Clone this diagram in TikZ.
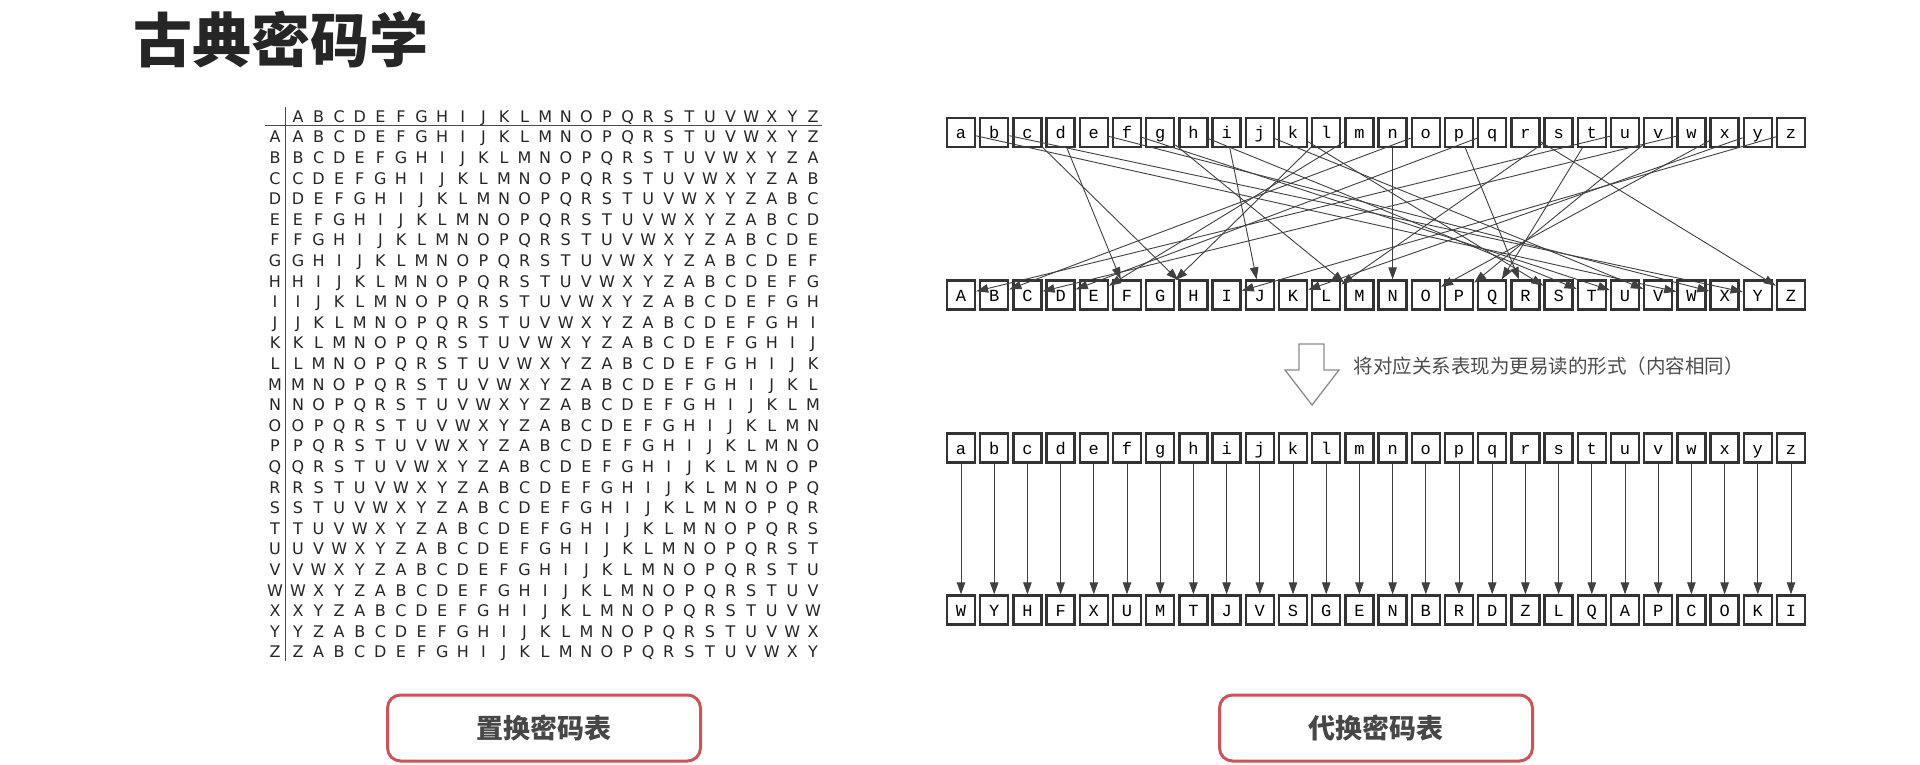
\documentclass[tikz,border=0pt]{standalone}
\usepackage{fontspec}
\setmainfont{DejaVu Sans}
\newfontfamily\cjk{Noto Sans CJK SC}
\newfontfamily\mono{Liberation Mono}
\usetikzlibrary{arrows.meta,shadows}
\definecolor{btnred}{RGB}{200,85,90}
\definecolor{ink}{RGB}{38,38,38}
\def\keymap{a/W,b/Y,c/H,d/F,e/X,f/U,g/M,h/T,i/J,j/V,k/S,l/G,m/E,n/N,o/B,p/R,q/D,r/Z,s/L,t/Q,u/A,v/P,w/C,x/O,y/K,z/I}
\tikzset{
  cell/.style={inner sep=0pt, text height=11.7pt, text depth=0pt, text=black!85,
    font=\fontsize{16}{16}\selectfont},
  key/.style={draw=black!80, line width=2.4pt, fill=white, inner sep=0pt,
    minimum width=28pt, minimum height=29pt, text height=12pt, text depth=0pt,
    font=\mono\fontsize{17}{17}\selectfont},
  link/.style={draw=black!75, line width=0.9pt, -{Triangle[length=12pt,width=8.5pt]}},
  btn/.style={draw=btnred, line width=3pt, fill=white, rounded corners=13pt,
    minimum width=313pt, minimum height=66pt, text=black!72,
    font=\cjk\bfseries\fontsize{27}{27}\selectfont,
    drop shadow={shadow xshift=0.5pt, shadow yshift=-1pt, opacity=0.3}}
}

\begin{document}
\begin{tikzpicture}[x=1pt,y=1pt]
      \useasboundingbox (0,0) rectangle (1920,-765);

      \node [font=\cjk\bfseries\fontsize{59}{59}\selectfont, text=ink] (title) at (281,-40) {古典密码学};

      % square table
      \draw [black!70, line width=1pt] (265,-126) -- (822,-126);
      \draw [black!70, line width=1pt] (285,-107) -- (285,-661);
      \foreach \c in {0,...,25}
        \node [cell] (col-\c) at ({298+20.6*\c},-117) {\char\numexpr65+\c\relax};
      \foreach \r in {0,...,25} {
        \node [cell] (row-\r) at (275,{-137-20.6*\r}) {\char\numexpr65+\r\relax};
        \foreach \c in {0,...,25} {
          \pgfmathtruncatemacro\n{mod(\r+\c,26)}
          \node [cell] (t-\r-\c) at ({298+20.6*\c},{-137-20.6*\r}) {\char\numexpr65+\n\relax};
        }
      }

      % key boxes
      \foreach \s/\d [count=\i from 0] in \keymap {
        \node [key] (top-\s) at ({961+33.2*\i},-132.5) {\s};
        \node [key] (low-\s) at ({961+33.2*\i},-448) {\s};
        \node [key] (out-\s) at ({961+33.2*\i},-610) {\d};
      }
      \foreach \u [count=\i from 0] in {A,...,Z}
        \node [key] (cap-\u) at ({961+33.2*\i},-295) {\u};
      \foreach \s/\d in \keymap {
        \draw [link] (top-\s) -- (cap-\d);
        \draw [link] (low-\s) -- (out-\s);
      }

      \draw [black!45, line width=1.3pt, fill=white] (1299,-344) -- (1324,-344) -- (1324,-370)
        -- (1339,-370) -- (1312,-405) -- (1285,-370) -- (1299,-370) -- cycle;
      \node [anchor=west, font=\cjk\fontsize{19.5}{19.5}\selectfont, text=black!70] (note) at (1350,-366)
        {将对应关系表现为更易读的形式（内容相同）};

      \node [btn] (perm) at (544,-728) {置换密码表};
      \node [btn] (subst) at (1376,-728) {代换密码表};
\end{tikzpicture}
\end{document}
